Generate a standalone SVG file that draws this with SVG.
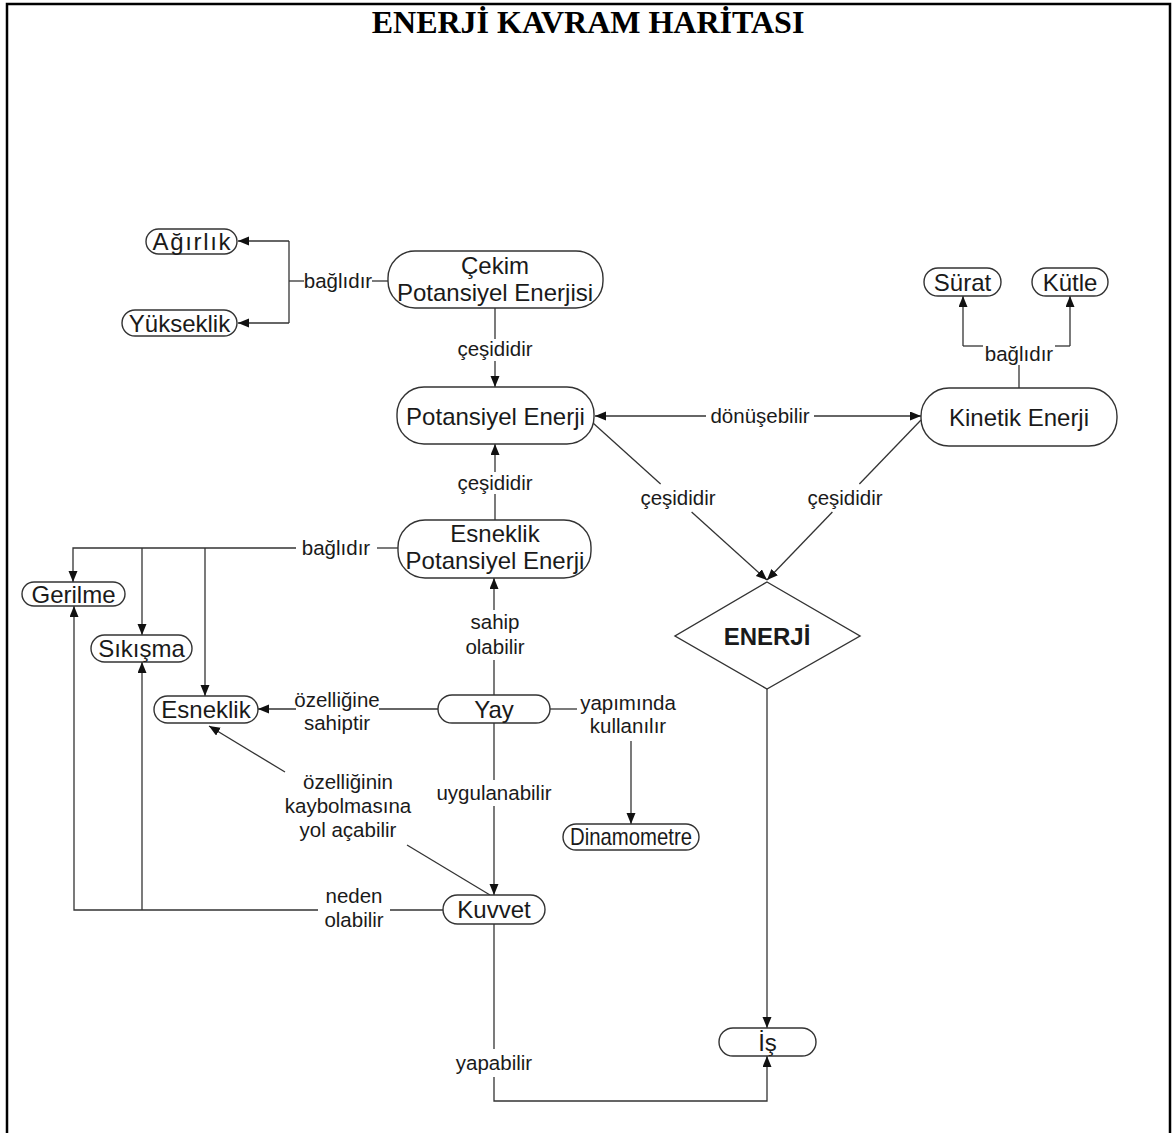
<svg xmlns="http://www.w3.org/2000/svg" width="1173" height="1133" viewBox="0 0 1173 1133">
  <defs>
    <marker id="arrow" markerWidth="12" markerHeight="10" refX="11" refY="4.5" orient="auto-start-reverse" markerUnits="userSpaceOnUse">
      <path d="M0,0 L11,4.5 L0,9 z" fill="#111"/>
    </marker>
    <style>
      .node rect, .node polygon { fill: #fff; stroke: #333; stroke-width: 1.4; }
      .node text { font-family: "Liberation Sans", Arial, sans-serif; font-size: 24px; fill: #1a1a1a; text-anchor: middle; }
      .node text.bold { font-weight: bold; font-size: 24px; }
      .edges path { fill: none; stroke: #333; stroke-width: 1.3; }
      .edges path.arr { marker-end: url(#arrow); }
      .edges text { font-family: "Liberation Sans", Arial, sans-serif; font-size: 20.5px; fill: #1a1a1a; text-anchor: middle; }
      .title { font-family: "Liberation Serif", "Times New Roman", serif; font-weight: bold; font-size: 32px; text-anchor: middle; fill: #000; }
    </style>
  </defs>

  <rect x="0" y="0" width="1173" height="1133" fill="#fff"/>
  <!-- page frame, open at the bottom -->
  <path d="M7,1133 V4 H1170 V1133" fill="none" stroke="#000" stroke-width="2.5"/>
  <text class="title" x="588" y="33">ENERJİ KAVRAM HARİTASI</text>

  <!-- connectors -->
  <g id="connectors" class="edges">
    <!-- Çekim PE -> Ağırlık / Yükseklik -->
    <path d="M388,281 H372"/>
    <path d="M304,281 H289"/>
    <path d="M289,241 V323"/>
    <path class="arr" d="M289,241 H238"/>
    <path class="arr" d="M289,323 H238"/>
    <text x="338" y="288">bağlıdır</text>

    <!-- Çekim PE -> Potansiyel Enerji -->
    <path d="M495,308 V339"/>
    <path class="arr" d="M495,361 V387"/>
    <text x="495" y="356">çeşididir</text>

    <!-- Potansiyel <-> Kinetik -->
    <path d="M706,416 H595" marker-end="url(#arrow)"/>
    <path class="arr" d="M814,416 H921"/>
    <text x="760" y="423">dönüşebilir</text>

    <!-- Potansiyel / Kinetik -> ENERJİ -->
    <path d="M593,423 L660.6,484"/>
    <path class="arr" d="M691.6,512 L767,580"/>
    <text x="678" y="505">çeşididir</text>
    <path d="M921,420 L859.4,484"/>
    <path class="arr" d="M832.4,512 L767,580"/>
    <text x="845" y="505">çeşididir</text>

    <!-- Kinetik -> Sürat / Kütle -->
    <path d="M1019,388 V365"/>
    <path d="M963,346 H983"/>
    <path d="M1055,346 H1070"/>
    <path class="arr" d="M963,346 V296"/>
    <path class="arr" d="M1070,346 V296"/>
    <text x="1019" y="361">bağlıdır</text>

    <!-- Esneklik PE -> Potansiyel Enerji -->
    <path d="M495,520 V494"/>
    <path class="arr" d="M495,472 V444"/>
    <text x="495" y="490">çeşididir</text>

    <!-- Esneklik PE -> Gerilme / Sıkışma / Esneklik -->
    <path d="M398,548 H377"/>
    <path class="arr" d="M296,548 H73 V582"/>
    <path class="arr" d="M142,548 V635"/>
    <path class="arr" d="M205,548 V696"/>
    <text x="336" y="555">bağlıdır</text>

    <!-- Yay -> Esneklik PE -->
    <path d="M494,695 V660"/>
    <path class="arr" d="M494,610 V578"/>
    <text x="495" y="629">sahip</text>
    <text x="495" y="654">olabilir</text>

    <!-- Yay -> Esneklik -->
    <path d="M438,709 H379"/>
    <path class="arr" d="M296,709 H258"/>
    <text x="337" y="707">özelliğine</text>
    <text x="337" y="730">sahiptir</text>

    <!-- Yay -> Dinamometre -->
    <path d="M550,709 H577"/>
    <path class="arr" d="M631,741 V824"/>
    <text x="628" y="710">yapımında</text>
    <text x="628" y="733">kullanılır</text>

    <!-- Yay -> Kuvvet -->
    <path d="M494,723 V780"/>
    <path class="arr" d="M494,806 V895"/>
    <text x="494" y="800">uygulanabilir</text>

    <!-- Kuvvet -> Esneklik -->
    <path d="M490,895 L407,845"/>
    <path class="arr" d="M285,772 L209,726"/>
    <text x="348" y="789">özelliğinin</text>
    <text x="348" y="813">kaybolmasına</text>
    <text x="348" y="837">yol açabilir</text>

    <!-- Kuvvet -> Gerilme / Sıkışma -->
    <path d="M443,910 H390"/>
    <path class="arr" d="M318,910 H74 V606"/>
    <path class="arr" d="M142,910 V662"/>
    <text x="354" y="903">neden</text>
    <text x="354" y="927">olabilir</text>

    <!-- ENERJİ -> İş -->
    <path class="arr" d="M767,689 V1028"/>

    <!-- Kuvvet -> İş -->
    <path d="M494,924 V1049"/>
    <path class="arr" d="M494,1077 V1101 H767 V1056"/>
    <text x="494" y="1070">yapabilir</text>
  </g>

  <!-- nodes -->
  <g id="agirlik" class="node">
    <rect x="146" y="229" width="91" height="25" rx="12.5"/>
    <text x="191.5" y="250" textLength="78" lengthAdjust="spacing">Ağırlık</text>
  </g>
  <g id="yukseklik" class="node">
    <rect x="122" y="310" width="115" height="26" rx="13"/>
    <text x="179.5" y="331.5">Yükseklik</text>
  </g>
  <g id="cekim-potansiyel" class="node">
    <rect x="388" y="251" width="215" height="57" rx="27"/>
    <text x="495" y="274">Çekim</text>
    <text x="495" y="301">Potansiyel Enerjisi</text>
  </g>
  <g id="potansiyel" class="node">
    <rect x="397" y="387" width="197" height="57" rx="27"/>
    <text x="495.5" y="424.5">Potansiyel Enerji</text>
  </g>
  <g id="kinetik" class="node">
    <rect x="921" y="388" width="196" height="58" rx="28"/>
    <text x="1019" y="425.5">Kinetik Enerji</text>
  </g>
  <g id="surat" class="node">
    <rect x="924" y="268" width="77" height="28" rx="14"/>
    <text x="962.5" y="290.5">Sürat</text>
  </g>
  <g id="kutle" class="node">
    <rect x="1032" y="268" width="76" height="28" rx="14"/>
    <text x="1070" y="290.5">Kütle</text>
  </g>
  <g id="esneklik-potansiyel" class="node">
    <rect x="398" y="520" width="193" height="58" rx="27"/>
    <text x="495" y="542">Esneklik</text>
    <text x="495" y="569">Potansiyel Enerji</text>
  </g>
  <g id="gerilme" class="node">
    <rect x="22" y="582" width="103" height="24" rx="12"/>
    <text x="73.5" y="602.5">Gerilme</text>
  </g>
  <g id="sikisma" class="node">
    <rect x="91" y="635" width="101" height="27" rx="13.5"/>
    <text x="141.5" y="657">Sıkışma</text>
  </g>
  <g id="esneklik" class="node">
    <rect x="154" y="696" width="104" height="27" rx="13.5"/>
    <text x="206" y="718">Esneklik</text>
  </g>
  <g id="yay" class="node">
    <rect x="438" y="695" width="112" height="28" rx="14"/>
    <text x="494" y="718">Yay</text>
  </g>
  <g id="dinamometre" class="node">
    <rect x="563" y="824" width="136" height="26" rx="13"/>
    <text x="631" y="845" textLength="122" lengthAdjust="spacingAndGlyphs">Dinamometre</text>
  </g>
  <g id="kuvvet" class="node">
    <rect x="443" y="895" width="102" height="29" rx="14.5"/>
    <text x="494" y="918">Kuvvet</text>
  </g>
  <g id="is" class="node">
    <rect x="719" y="1028" width="97" height="28" rx="14"/>
    <text x="767.5" y="1051">İş</text>
  </g>
  <g id="enerji" class="node">
    <polygon points="767,582 860,636 767,689 675,636"/>
    <text class="bold" x="767" y="644.5">ENERJİ</text>
  </g>
</svg>
